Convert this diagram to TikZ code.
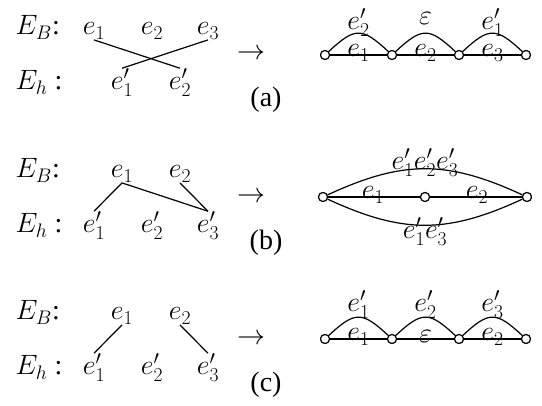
\RequirePackage{fix-cm}
\documentclass[tikz,border=0pt]{standalone}
\usepackage{fontspec}
\setmainfont{Liberation Serif}
\newfontfamily\capfont{Liberation Serif}
\begin{document}
\begin{tikzpicture}[x=1pt,y=-1pt,
  lbl/.style={font=\fontsize{28}{34}\selectfont, inner sep=0.5pt, anchor=base},
  captxt/.style={font=\capfont\fontsize{28}{34}\selectfont, inner sep=0.5pt, anchor=base},
  vtx/.style={circle, draw, fill=white, inner sep=0pt, minimum size=9pt, line width=1.1pt},
  con/.style={line width=1.2pt}]
\useasboundingbox (0,0) rectangle (542,406);

% ---------- (a) ----------
\node[lbl,anchor=base west] (EBa) at (15,35) {$E_B$:};
\node[lbl,anchor=base west] (Eha) at (15,90) {$E_h$ :};
\node[lbl] (a1) at (94,35) {$e_1$};
\node[lbl] (a2) at (152,35) {$e_2$};
\node[lbl] (a3) at (208,35) {$e_3$};
\node[lbl] (ap1) at (122,90) {$e'_1$};
\node[lbl] (ap2) at (180,90) {$e'_2$};
\draw[con] (a1.south) -- (ap2.north);
\draw[con] (a3.south) -- (ap1.north);
\node[lbl,anchor=center] (arra) at (251,54) {$\rightarrow$};
\node[captxt] (capa) at (266,107) {(a)};

\node[vtx] (av1) at (325,55) {};
\node[vtx] (av2) at (392,55) {};
\node[vtx] (av3) at (459,55) {};
\node[vtx] (av4) at (526,55) {};
\draw[con] (av1) -- (av2) -- (av3) -- (av4);
\draw[con] (av1) .. controls +(30,-28) and +(-30,-28) .. (av2);
\draw[con] (av2) .. controls +(30,-28) and +(-30,-28) .. (av3);
\draw[con] (av3) .. controls +(30,-28) and +(-30,-28) .. (av4);
\node[lbl] (al1) at (358.5,29.5) {$e'_2$};
\node[lbl] (al2) at (425.5,25) {$\varepsilon$};
\node[lbl] (al3) at (492.5,29.5) {$e'_1$};
\node[lbl] (al4) at (358.5,57) {$e_1$};
\node[lbl] (al5) at (425.5,57) {$e_2$};
\node[lbl] (al6) at (492.5,57) {$e_3$};
\foreach \n in {av1,av2,av3,av4} \node[vtx] at (\n) {};

% ---------- (b) ----------
\node[lbl,anchor=base west] (EBb) at (15,178) {$E_B$:};
\node[lbl,anchor=base west] (Ehb) at (15,233) {$E_h$ :};
\node[lbl] (b1) at (122,178) {$e_1$};
\node[lbl] (b2) at (180,178) {$e_2$};
\node[lbl] (bp1) at (94,233) {$e'_1$};
\node[lbl] (bp2) at (152,233) {$e'_2$};
\node[lbl] (bp3) at (208,233) {$e'_3$};
\draw[con] (b1.south) -- (bp1.north);
\draw[con] (b1.south) -- (bp3.north);
\draw[con] (b2.south) -- (bp3.north);
\node[lbl,anchor=center] (arrb) at (251,197) {$\rightarrow$};
\node[captxt] (capb) at (266,250) {(b)};

\node[vtx] (bv1) at (323,197) {};
\node[vtx] (bv2) at (425,197) {};
\node[vtx] (bv3) at (527,197) {};
\draw[con] (bv1) -- (bv2) -- (bv3);
\draw[con] (bv1) .. controls +(80,-37) and +(-80,-37) .. (bv3);
\draw[con] (bv1) .. controls +(80,37) and +(-80,37) .. (bv3);
\node[lbl] (bl1) at (425,170) {$e'_1e'_2e'_3$};
\node[lbl] (bl2) at (373,199) {$e_1$};
\node[lbl] (bl3) at (477,199) {$e_2$};
\node[lbl] (bl4) at (425,239) {$e'_1e'_3$};
\foreach \n in {bv1,bv2,bv3} \node[vtx] at (\n) {};

% ---------- (c) ----------
\node[lbl,anchor=base west] (EBc) at (15,320) {$E_B$:};
\node[lbl,anchor=base west] (Ehc) at (15,375) {$E_h$ :};
\node[lbl] (c1) at (122,320) {$e_1$};
\node[lbl] (c2) at (180,320) {$e_2$};
\node[lbl] (cp1) at (94,375) {$e'_1$};
\node[lbl] (cp2) at (152,375) {$e'_2$};
\node[lbl] (cp3) at (208,375) {$e'_3$};
\draw[con] (c1.south) -- (cp1.north);
\draw[con] (c2.south) -- (cp3.north);
\node[lbl,anchor=center] (arrc) at (251,339) {$\rightarrow$};
\node[captxt] (capc) at (266,392) {(c)};

\node[vtx] (cv1) at (325,339) {};
\node[vtx] (cv2) at (392,339) {};
\node[vtx] (cv3) at (459,339) {};
\node[vtx] (cv4) at (526,339) {};
\draw[con] (cv1) -- (cv2) -- (cv3) -- (cv4);
\draw[con] (cv1) .. controls +(30,-28) and +(-30,-28) .. (cv2);
\draw[con] (cv2) .. controls +(30,-28) and +(-30,-28) .. (cv3);
\draw[con] (cv3) .. controls +(30,-28) and +(-30,-28) .. (cv4);
\node[lbl] (cl1) at (358.5,312) {$e'_1$};
\node[lbl] (cl2) at (425.5,312) {$e'_2$};
\node[lbl] (cl3) at (492.5,312) {$e'_3$};
\node[lbl] (cl4) at (358.5,341) {$e_1$};
\node[lbl] (cl5) at (425.5,343) {$\varepsilon$};
\node[lbl] (cl6) at (492.5,341) {$e_2$};
\foreach \n in {cv1,cv2,cv3,cv4} \node[vtx] at (\n) {};
\end{tikzpicture}
\end{document}
